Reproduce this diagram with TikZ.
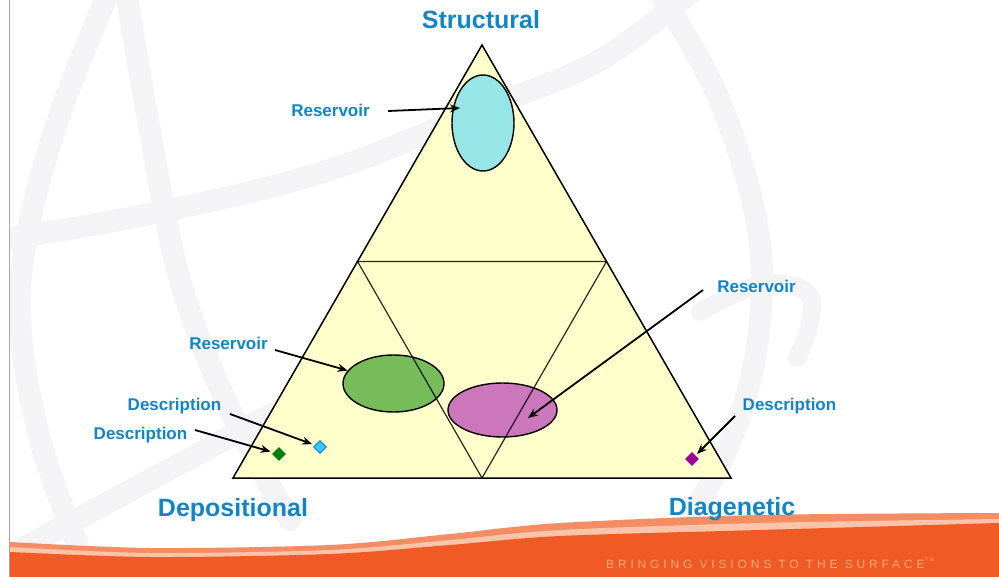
\documentclass[tikz,border=0pt]{standalone}
\usepackage{fontspec}
\setmainfont{Liberation Sans}
\newfontfamily\sloganfont[LetterSpace=32]{Liberation Sans}
\usetikzlibrary{shapes.geometric,arrows.meta,calc}

\definecolor{lblblue}{RGB}{18,133,196}
\definecolor{triyellow}{RGB}{255,255,204}
\definecolor{aqua}{RGB}{150,230,232}
\definecolor{leaf}{RGB}{118,188,90}
\definecolor{orchid}{RGB}{204,118,188}
\definecolor{globegray}{RGB}{244,244,246}
\definecolor{bannerorange}{RGB}{240,90,36}
\definecolor{bannersalmon}{RGB}{244,140,100}
\definecolor{bannerpale}{RGB}{249,196,170}
\definecolor{slogantext}{RGB}{248,168,120}
\definecolor{gemgreen}{RGB}{0,128,0}
\definecolor{gemcyan}{RGB}{51,200,255}
\definecolor{gemedge}{RGB}{0,110,190}
\definecolor{gempurple}{RGB}{153,0,153}

\tikzset{
  lbl/.style={font=\bfseries\fontsize{17}{20}\selectfont, text=lblblue, inner sep=0pt},
  corner/.style={font=\bfseries\fontsize{25}{30}\selectfont, text=lblblue, inner sep=0pt},
  arr/.style={-{Stealth[length=10pt,width=8pt]}, line width=1.8pt, black},
  blob/.style={ellipse, draw=black, line width=1.4pt, inner sep=0pt},
  gem/.style={diamond, inner sep=0pt, minimum width=14pt, minimum height=14pt},
  globe/.style={draw=globegray, line width=22pt, line cap=round},
  edge/.style={black, line width=1.5pt, line join=miter},
  split/.style={black, line width=1.2pt}
}

\begin{document}
\begin{tikzpicture}[x=1pt,y=-1pt]
\useasboundingbox (0,0) rectangle (999,577);
\fill[white] (0,0) rectangle (999,577);

% faint globe in the background
\begin{scope}
\clip (10,0) rectangle (999,577);
\draw[globe] plot[smooth,tension=0.6] coordinates {(112,-15) (65,100) (30,220) (20,320) (40,440) (78,545)};
\draw[globe] plot[smooth,tension=0.6] coordinates {(125,-15) (148,120) (180,280) (230,410) (290,520)};
\draw[globe] plot[smooth,tension=0.6] coordinates {(0,240) (160,212) (330,170) (480,110) (600,60) (700,-15)};
\draw[globe] plot[smooth,tension=0.6] coordinates {(655,-15) (715,90) (752,200) (762,290) (748,390) (712,480) (660,560)};
\draw[globe] plot[smooth,tension=0.6] coordinates {(10,555) (150,480) (267,417) (360,372)};
\draw[globe, line width=18pt] plot[smooth,tension=0.7] coordinates {(700,312) (760,285) (806,292) (810,322) (797,358)};
\end{scope}

% page edge
\draw[gray!70, line width=0.8pt] (9.5,0) -- (9.5,577);

% footer band
\fill[bannersalmon] plot[smooth] coordinates {(10,542) (150,548) (330,545) (450,534) (560,523) (760,515) (999,513)} -- (999,577) -- (10,577) -- cycle;
\fill[bannerpale] plot[smooth] coordinates {(10,547) (150,553) (330,550) (450,540) (560,530) (760,523) (999,519)} -- (999,577) -- (10,577) -- cycle;
\fill[bannerorange] plot[smooth] coordinates {(10,552) (150,557) (330,554) (450,545) (560,536) (760,530) (999,523)} -- (999,577) -- (10,577) -- cycle;
\node[font=\sloganfont\fontsize{12}{14}\selectfont, text=slogantext, inner sep=0pt, anchor=west] (slogan) at (606,563)
  {BRINGING VISIONS TO THE SURFACE\raisebox{0.55em}{\fontsize{5.5}{6}\selectfont TM}};

% ternary triangle
\coordinate (apex) at (482,45);
\coordinate (bl) at (233,478);
\coordinate (br) at (731,478);
\coordinate (mL) at ($(apex)!0.5!(bl)$);
\coordinate (mR) at ($(apex)!0.5!(br)$);
\coordinate (mB) at ($(bl)!0.5!(br)$);
\fill[triyellow] (apex) -- (bl) -- (br) -- cycle;

% reservoir fields
\node[blob, fill=aqua, minimum width=62pt, minimum height=96pt] (cyanres) at (483,123) {};
\node[blob, fill=leaf, minimum width=101pt, minimum height=57pt] (greenres) at (393.5,383.5) {};
\node[blob, fill=orchid, minimum width=109pt, minimum height=54pt] (pinkres) at (502.5,410) {};

% inner subdivision
\draw[split, opacity=0.85] (mL) -- (mR) -- (mB) -- cycle;
\draw[edge] (apex) -- (bl) -- (br) -- cycle;

% corner labels
\node[corner] (structural) at (481,20) {Structural};
\node[corner] (depositional) at (233,510) {Depositional};
\node[corner] (diagenetic) at (732,509) {Diagenetic};

% callout labels
\node[lbl] (resTop) at (330.5,110) {Reservoir};
\node[lbl] (resLeft) at (228.5,343) {Reservoir};
\node[lbl] (resRight) at (756.5,286) {Reservoir};
\node[lbl] (descUp) at (174.5,406) {Description};
\node[lbl] (descLow) at (140.5,435) {Description};
\node[lbl] (descRight) at (789.5,406) {Description};

% sample markers
\node[gem, fill=gemgreen] (gGreen) at (279,454) {};
\node[gem, fill=gemcyan, draw=gemedge, line width=0.8pt, minimum width=13pt, minimum height=13pt] (gCyan) at (320,447) {};
\node[gem, fill=gempurple] (gPurple) at (692,459) {};

% arrow tails and tips
\coordinate (tTop) at (388,111);
\coordinate (hTop) at (460,108);
\coordinate (tLeft) at (275,350);
\coordinate (tRight) at (703,290);
\coordinate (hRight) at (528,418);
\coordinate (tUp) at (230,414);
\coordinate (tLow) at (195,430);
\coordinate (tDR) at (735,416);

\draw[arr] (tTop) -- (hTop);
\draw[arr] (tLeft) -- (greenres);
\draw[arr] (tRight) -- (hRight);
\draw[arr, shorten >=3pt] (tUp) -- (gCyan);
\draw[arr, shorten >=3pt] (tLow) -- (gGreen);
\draw[arr, shorten >=2pt] (tDR) -- (gPurple);
\end{tikzpicture}
\end{document}
